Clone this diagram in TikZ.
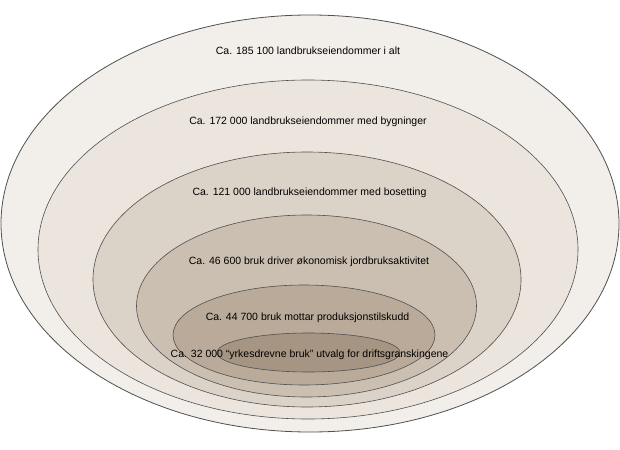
\documentclass[tikz,border=0pt]{standalone}
\usepackage{fontspec}
\setmainfont{Liberation Sans}
\definecolor{cA}{HTML}{F2EFEA}
\definecolor{cB}{HTML}{EBE5DE}
\definecolor{cC}{HTML}{DCD3C8}
\definecolor{cD}{HTML}{CBBFB1}
\definecolor{cE}{HTML}{B9AA99}
\definecolor{cF}{HTML}{A69582}
\definecolor{edge}{HTML}{505050}
\begin{document}
\begin{tikzpicture}[x=1pt,y=-1pt,
  ring/.style={draw=edge,line width=0.6pt},
  lbl/.style={font=\fontsize{10.5}{12}\selectfont,text=black,inner sep=0pt}]
\useasboundingbox (0,0) rectangle (620,449);
\fill[white] (0,0) rectangle (620,449);
\path[ring,fill=cA,line width=0.8pt] (310,223.5) ellipse [x radius=309,y radius=208.5];
\path[ring,fill=cB] (308,249.5) ellipse [x radius=270,y radius=169.5];
\path[ring,fill=cC] (307,279.5) ellipse [x radius=214,y radius=127.5];
\path[ring,fill=cD] (306.5,306) ellipse [x radius=170,y radius=91];
\path[ring,fill=cE] (304,335) ellipse [x radius=131,y radius=50];
\path[ring,fill=cF] (308.5,352.5) ellipse [x radius=91.5,y radius=19.5];
\node[lbl] (t1) at (308,51) {Ca. 185 100 landbrukseiendommer i alt};
\node[lbl] (t2) at (308,122) {Ca. 172 000 landbrukseiendommer med bygninger};
\node[lbl] (t3) at (309.5,193) {Ca. 121 000 landbrukseiendommer med bosetting};
\node[lbl] (t4) at (309,262) {Ca. 46 600 bruk driver økonomisk jordbruksaktivitet};
\node[lbl] (t5) at (307.5,318) {Ca. 44 700 bruk mottar produksjonstilskudd};
\node[lbl] (t6) at (309.5,355) {Ca. 32 000 “yrkesdrevne bruk” utvalg for driftsgranskingene};
\end{tikzpicture}
\end{document}
